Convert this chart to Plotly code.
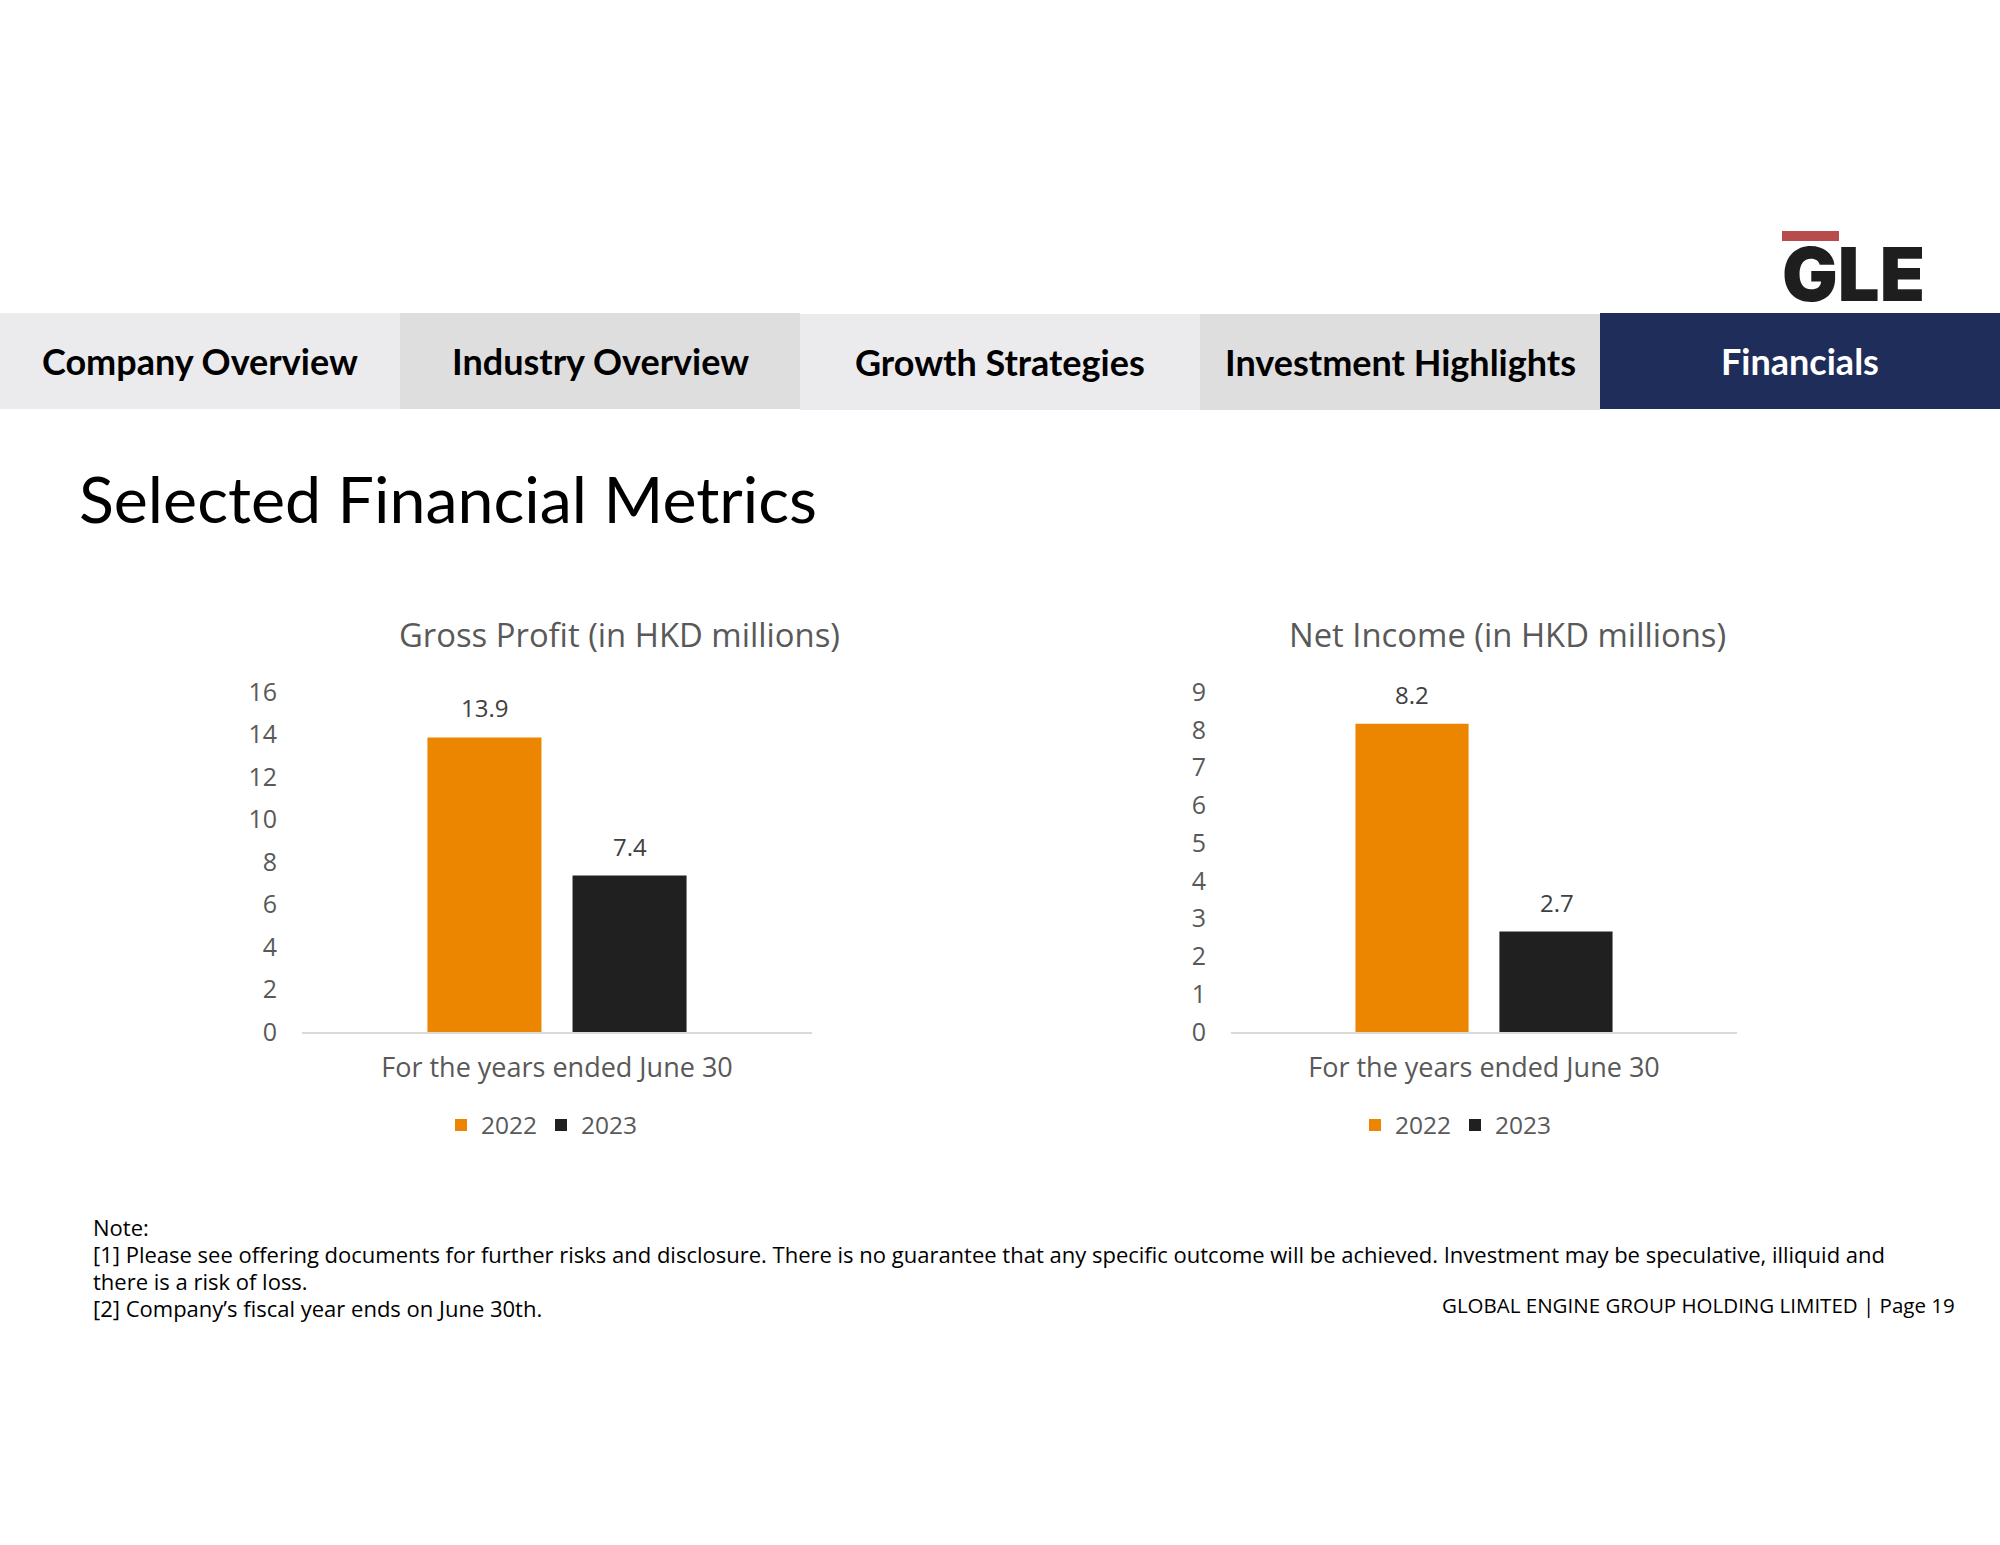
import plotly.graph_objects as go

W = 2000
H = 1545

years = ["2022", "2023"]
year_colors = ["#EC8600", "#202020"]
category = ["For the years ended June 30"]
gross_profit = [13.86, 7.36]
net_income = [8.16, 2.66]
gross_ticks = [0, 2, 4, 6, 8, 10, 12, 14, 16]
net_ticks = [0, 1, 2, 3, 4, 5, 6, 7, 8, 9]
tab_labels = ["Company Overview", "Industry Overview", "Growth Strategies",
              "Investment Highlights", "Financials"]
tab_colors = ["#EBEBED", "#DEDEDE", "#EBEBED", "#DEDEDE", "#1F2D5A"]
tab_tops = [313, 313, 314, 314, 313]
note_lines = ["Note:",
              "[1] Please see offering documents for further risks and disclosure. There is no guarantee that any specific outcome will be achieved. Investment may be speculative, illiquid and",
              "there is a risk of loss.",
              "[2] Company’s fiscal year ends on June 30th."]
footer = "GLOBAL ENGINE GROUP HOLDING LIMITED | Page 19"

CHART_FONT = "Open Sans"
HEAD_FONT = "Lato"
GREY = "#595959"


def px(x):
    return x / W


def py(y):
    return 1 - y / H


def label(text, x, y, size, color="black", family=CHART_FONT, anchor="center", weight=None):
    return dict(text=text, x=px(x), y=py(y), xref="paper", yref="paper", showarrow=False,
                xanchor=anchor, yanchor="middle",
                font=dict(family=family, size=size, color=color, weight=weight))


fig = go.Figure()
annotations = []
shapes = []

# one chart per metric: values, axes names, left/right edge of the plot in pixels
charts = [(gross_profit, gross_ticks, "x", "y", "legend", 302, 812),
          (net_income, net_ticks, "x2", "y2", "legend2", 1231, 1737)]

for values, ticks, xa, ya, leg, left, right in charts:
    for i, year in enumerate(years):
        fig.add_trace(go.Bar(x=category, y=[values[i]], name=year, xaxis=xa, yaxis=ya, legend=leg,
                             marker=dict(color=year_colors[i], line=dict(width=0))))
        annotations.append(dict(text=f"{values[i]:.1f}", x=category[0], y=values[i],
                                xref=xa, yref=ya, xshift=-72.5 if i == 0 else 72.5, yshift=11,
                                yanchor="bottom", showarrow=False,
                                font=dict(family=CHART_FONT, size=24, color="#404040")))

    xkey = "xaxis" + xa[1:]
    ykey = "yaxis" + ya[1:]
    fig.update_layout({
        xkey: dict(domain=[px(left), px(right)], anchor=ya, showline=True, linecolor="#D9D9D9",
                   linewidth=2, showgrid=False, ticks="outside", ticklen=11,
                   tickcolor="rgba(0,0,0,0)", tickfont=dict(family=CHART_FONT, size=27, color=GREY)),
        ykey: dict(domain=[py(1032), py(692)], anchor=xa, range=[0, ticks[-1]], tickvals=ticks,
                   showline=False, showgrid=False, zeroline=False, ticks="outside", ticklen=19,
                   tickcolor="rgba(0,0,0,0)", tickfont=dict(family=CHART_FONT, size=25, color=GREY)),
    })

annotations.append(label("Gross Profit (in HKD millions)", 619, 634, 32.8, GREY))
annotations.append(label("Net Income (in HKD millions)", 1507, 634, 32.8, GREY))

# header tabs
for i, text in enumerate(tab_labels):
    shapes.append(dict(type="rect", xref="paper", yref="paper", x0=px(400 * i), x1=px(400 * (i + 1)),
                       y0=py(tab_tops[i] + 96), y1=py(tab_tops[i]), fillcolor=tab_colors[i],
                       line=dict(width=0), layer="below"))
    annotations.append(label(text, 400 * i + 200, tab_tops[i] + 48, 36,
                             "white" if i == 4 else "black", HEAD_FONT, weight=700))

annotations.append(label("Selected Financial Metrics", 77, 497.5, 64.5, "black", HEAD_FONT, "left"))

# logo
shapes.append(dict(type="rect", xref="paper", yref="paper", x0=px(1782), x1=px(1839),
                   y0=py(241), y1=py(231), fillcolor="#B84B4B", line=dict(width=0)))
annotations.append(label("GLE", 1853, 274, 74, "#1E1E1E", "Inter", weight=900))

for text, y in zip(note_lines, [1227, 1254, 1281, 1308]):
    annotations.append(label(text, 91, y, 22, "black", CHART_FONT, "left"))
annotations.append(label(footer, 1957, 1305, 20.5, "black", CHART_FONT, "right"))

legend_style = dict(orientation="h", xanchor="center", yanchor="middle", y=py(1125),
                    font=dict(family=CHART_FONT, size=24.5, color=GREY),
                    entrywidth=55, entrywidthmode="pixels", bgcolor="rgba(0,0,0,0)")

fig.update_layout(
    width=W, height=H, margin=dict(l=0, r=0, t=0, b=0, autoexpand=False),
    paper_bgcolor="white", plot_bgcolor="white",
    barmode="group", bargap=0.431, bargroupgap=0.214,
    showlegend=True,
    legend=dict(x=px(541), **legend_style),
    legend2=dict(x=px(1455), **legend_style),
    annotations=annotations, shapes=shapes,
)

fig.write_html("out.html", config={"displayModeBar": False},
               post_script="document.body.style.margin='0';")
